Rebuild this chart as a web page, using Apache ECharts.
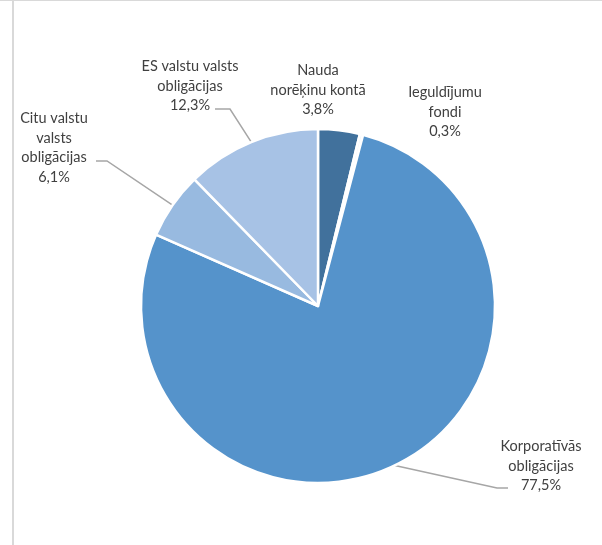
<!DOCTYPE html>
<html><head><meta charset="utf-8">
<script src="https://cdn.jsdelivr.net/npm/echarts@6/dist/echarts.min.js"></script>
<style>html,body{margin:0;padding:0;background:#fff}#c{width:602px;height:545px}</style>
</head><body><div id="c"></div>
<script>
var categories = ['Nauda\nnorēķinu kontā', 'Ieguldījumu\nfondi', 'Korporatīvās\nobligācijas', 'Citu valstu\nvalsts\nobligācijas', 'ES valstu valsts\nobligācijas'];
var shares = [3.8, 0.3, 77.5, 6.1, 12.3];
var colors = ['#41719C', '#F2F6FB', '#5593CB', '#98BAE0', '#A7C2E5'];
// label layout (centre of text block) and leader-line knee/end points
var labelPos = [[318, 90], [445, 112], [541, 466], [54, 148], [190, 86]];
var leader = [null, null, [[497, 488], [508, 488]], [[107, 161], [96, 161]], [[230, 109], [215, 109]]];

var chart = echarts.init(document.getElementById('c'));
var data = categories.map(function (n, i) {
  return {
    name: n, value: shares[i],
    itemStyle: { color: colors[i] },
    labelLine: { show: !!leader[i] }
  };
});
chart.setOption({
  animation: false,
  graphic: [
    { type: 'line', shape: { x1: 0, y1: 0.5, x2: 602, y2: 0.5 }, style: { stroke: '#d9d9d9', lineWidth: 1 } },
    { type: 'line', shape: { x1: 13, y1: 0, x2: 13, y2: 545 }, style: { stroke: '#d9d9d9', lineWidth: 2 } }
  ],
  series: [{
    type: 'pie',
    center: [318, 306],
    radius: 177,
    startAngle: 90,
    clockwise: true,
    avoidLabelOverlap: false,
    data: data,
    itemStyle: { borderColor: '#fff', borderWidth: 2.5 },
    label: {
      show: true,
      position: 'outside',
      color: '#404040',
      fontFamily: 'Lato',
      fontSize: 14.5,
      lineHeight: 19.5,
      align: 'center',
      formatter: function (p) {
        return p.name + '\n' + p.value.toFixed(1).replace('.', ',') + '%';
      }
    },
    labelLine: { show: true, length: 10, length2: 10, lineStyle: { color: '#a6a6a6', width: 1.5 } },
    labelLayout: function (p) {
      var i = p.dataIndex;
      var res = { x: labelPos[i][0], y: labelPos[i][1], align: 'center', verticalAlign: 'middle' };
      if (leader[i] && p.labelLinePoints) {
        var p0 = p.labelLinePoints[0];
        res.labelLinePoints = [p0, leader[i][0], leader[i][1]];
      }
      return res;
    }
  }]
});
</script></body></html>
